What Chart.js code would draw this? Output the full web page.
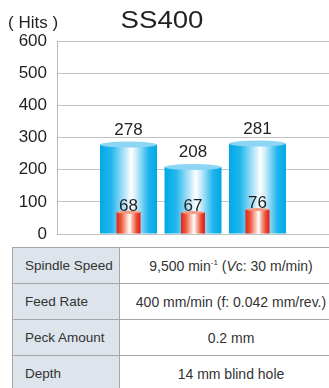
<!DOCTYPE html>
<html>
<head>
<meta charset="utf-8">
<script src="https://cdn.jsdelivr.net/npm/chart.js@4"></script>
<style>
  html, body { margin: 0; padding: 0; background: #fff; overflow: hidden; }
  #wrap { position: relative; width: 329px; height: 388px; }
  #chart { position: absolute; left: 0; top: 0; }
  table {
    position: absolute; left: 12px; top: 247px;
    border-collapse: collapse; table-layout: fixed; width: 330px;
    font-family: "Liberation Sans", Arial, sans-serif; color: #333;
  }
  tr { height: 36px; }
  td { border: 1px solid #a6a6a6; padding: 0; white-space: nowrap; }
  td.k { background: #dde4eb; padding-left: 12px; font-size: 13.5px; }
  td.v { text-align: center; font-size: 14px; }
  sup { font-size: 8px; vertical-align: 6px; line-height: 0; }
</style>
</head>
<body>
<div id="wrap">
  <canvas id="chart" width="329" height="247"></canvas>
  <table>
    <colgroup><col style="width:107px"><col style="width:223px"></colgroup>
    <tr><td class="k">Spindle Speed</td><td class="v">9,500 min<sup>-1</sup> (<i>V</i>c: 30 m/min)</td></tr>
    <tr><td class="k">Feed Rate</td><td class="v">400 mm/min (f: 0.042 mm/rev.)</td></tr>
    <tr><td class="k">Peck Amount</td><td class="v">0.2 mm</td></tr>
    <tr><td class="k">Depth</td><td class="v">14 mm blind hole</td></tr>
  </table>
</div>
<script>
const slots = [1, 2, 3];
const totalHits = [278, 208, 281];
const innerHits = [68, 67, 76];
const yMax = 600;
const yStep = 100;

const FONT = '"Liberation Sans", Arial, sans-serif';
const INK = '#231f20';

// per-dataset cylinder look: body gradient, cap colour, label offset
const looks = [
  {
    stops: [[0, '#00a9e8'], [0.2, '#22b6ec'], [0.45, '#bfe9fa'], [0.55, '#ffffff'], [0.65, '#c0e9fa'], [0.85, '#1fb5ec'], [1, '#00a8e7']],
    cap: '#8dd5f4', capRy: 3, gap: 10
  },
  {
    stops: [[0, '#e2231a'], [0.2, '#ec5a3c'], [0.45, '#fbd2c6'], [0.55, '#ffffff'], [0.65, '#f7b6a3'], [0.85, '#ea4530'], [1, '#e01e17']],
    cap: '#f39a82', capRy: 1.5, gap: 1.5
  }
];

const cylinders = {
  id: 'cylinders',
  afterDatasetsDraw(chart) {
    const ctx = chart.ctx;
    ctx.save();
    chart.data.datasets.forEach((ds, di) => {
      const look = looks[di];
      chart.getDatasetMeta(di).data.forEach((bar, i) => {
        const { x, y, base, width } = bar.getProps(['x', 'y', 'base', 'width'], true);
        const left = x - width / 2;
        const g = ctx.createLinearGradient(left, 0, left + width, 0);
        look.stops.forEach(([p, c]) => g.addColorStop(p, c));
        ctx.fillStyle = g;
        ctx.fillRect(left, y, width, base - y);
        ctx.fillStyle = look.cap;
        ctx.beginPath();
        ctx.ellipse(x, y, width / 2, look.capRy, 0, 0, Math.PI * 2);
        ctx.fill();
        ctx.fillStyle = INK;
        ctx.font = '17px ' + FONT;
        ctx.textAlign = 'center';
        ctx.textBaseline = 'alphabetic';
        ctx.fillText(String(ds.data[i].y), x, y - look.gap);
      });
    });
    ctx.restore();
  }
};

// unit caption and widened title at the top
const heading = {
  id: 'heading',
  afterDraw(chart) {
    const ctx = chart.ctx;
    ctx.save();
    ctx.fillStyle = INK;
    ctx.textBaseline = 'alphabetic';
    ctx.textAlign = 'left';
    ctx.font = '17px ' + FONT;
    ctx.fillText('( Hits )', 8, 28);
    ctx.translate(162, 28);
    ctx.scale(1.2, 1);
    ctx.textAlign = 'center';
    ctx.font = '23px ' + FONT;
    ctx.fillText('SS400', 0, 0);
    ctx.restore();
  }
};

new Chart(document.getElementById('chart').getContext('2d'), {
  type: 'bar',
  data: {
    datasets: [
      { label: 'Hits', data: slots.map((x, i) => ({ x, y: totalHits[i] })), barThickness: 57, grouped: false, backgroundColor: 'rgba(0,0,0,0)', borderWidth: 0 },
      { label: 'Hits (inner)', data: slots.map((x, i) => ({ x, y: innerHits[i] })), barThickness: 24, grouped: false, backgroundColor: 'rgba(0,0,0,0)', borderWidth: 0 }
    ]
  },
  options: {
    responsive: false,
    animation: false,
    layout: { padding: { top: 41, bottom: 13, left: 0, right: 0 } },
    plugins: { legend: { display: false }, tooltip: { enabled: false } },
    scales: {
      x: { type: 'linear', offset: false, min: -0.109, max: 4.109, display: false },
      y: {
        min: 0, max: yMax,
        ticks: { stepSize: yStep, padding: 10, color: INK, font: { family: FONT, size: 17 } },
        grid: { color: '#c2c2c2', drawTicks: false },
        border: { color: '#b8b8b8' },
        afterFit(scale) {
          scale.width = 57;
          scale.paddingTop = 0;
          scale.paddingBottom = 0;
        }
      }
    }
  },
  plugins: [cylinders, heading]
});
</script>
</body>
</html>
